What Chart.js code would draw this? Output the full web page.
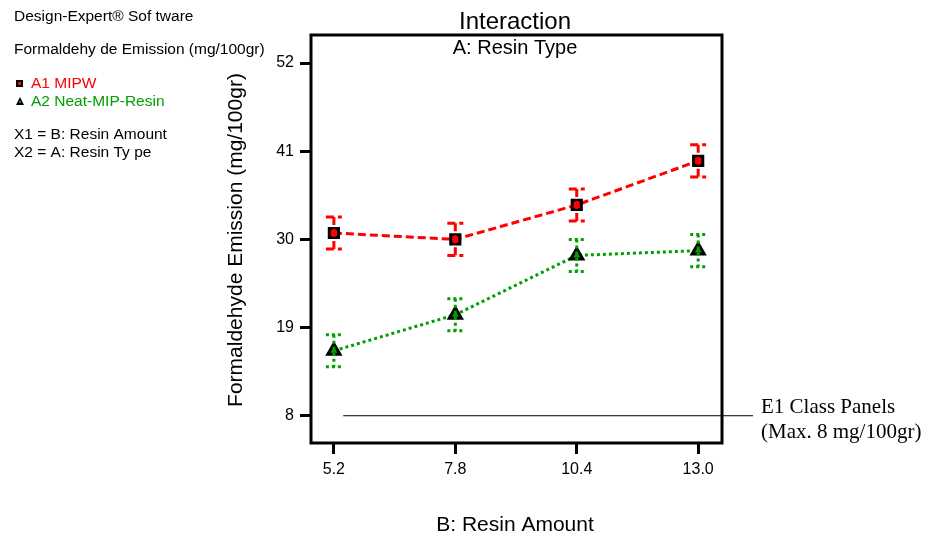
<!DOCTYPE html>
<html>
<head>
<meta charset="utf-8">
<script src="https://cdn.jsdelivr.net/npm/chart.js@4/dist/chart.umd.min.js"></script>
<style>
    html, body { margin: 0; padding: 0; background: #fff; }
    #wrap { width: 926px; height: 538px; position: relative; }
</style>
</head>
<body>
<div id="wrap"><canvas id="interaction-chart" width="926" height="538"></canvas></div>
<script>
// Data
const resinAmount = [5.2, 7.8, 10.4, 13.0];
const mipwValues = [30.8, 30.0, 34.3, 39.8];
const mipwError = [2.0, 2.0, 2.0, 2.0];
const neatValues = [16.1, 20.6, 28.0, 28.6];
const neatError = [2.0, 2.0, 2.0, 2.0];
const yTickValues = [8, 19, 30, 41, 52];
const e1Limit = 8;

const SANS = '"Liberation Sans", Arial, sans-serif';
const SERIF = '"Liberation Serif", "Times New Roman", serif';

function toPoints(xs, ys) {
    return xs.map((x, i) => ({ x: x, y: ys[i] }));
}

// Plugin untuk error bar, garis batas E1, bingkai dan teks
const decorPlugin = {
    id: 'decor',
    afterDatasetsDraw(chart) {
        const ctx = chart.ctx;
        const xs = chart.scales.x;
        const ys = chart.scales.y;
        const bars = [
            { vals: mipwValues, err: mipwError, color: '#ff0000', dash: [8, 4] },
            { vals: neatValues, err: neatError, color: '#00a000', dash: [3, 3] }
        ];
        ctx.save();
        bars.forEach(b => {
            ctx.strokeStyle = b.color;
            ctx.lineWidth = 3;
            ctx.setLineDash(b.dash);
            resinAmount.forEach((xv, i) => {
                const px = xs.getPixelForValue(xv);
                const top = ys.getPixelForValue(b.vals[i] + b.err[i]);
                const bot = ys.getPixelForValue(b.vals[i] - b.err[i]);
                ctx.beginPath();
                ctx.moveTo(px, top);
                ctx.lineTo(px, bot);
                ctx.moveTo(px - 8, top);
                ctx.lineTo(px + 8, top);
                ctx.moveTo(px - 8, bot);
                ctx.lineTo(px + 8, bot);
                ctx.stroke();
            });
        });
        ctx.restore();
    },
    afterDraw(chart) {
        const ctx = chart.ctx;
        const area = chart.chartArea;
        const xs = chart.scales.x;
        const ys = chart.scales.y;
        ctx.save();

        // bingkai
        ctx.strokeStyle = '#000';
        ctx.lineWidth = 3;
        ctx.strokeRect(area.left, area.top, area.right - area.left, area.bottom - area.top);

        // garis batas E1
        const yLim = ys.getPixelForValue(e1Limit);
        ctx.lineWidth = 1;
        ctx.beginPath();
        ctx.moveTo(xs.getPixelForValue(5.4), yLim);
        ctx.lineTo(753, yLim);
        ctx.stroke();

        ctx.fillStyle = '#000';
        ctx.textBaseline = 'middle';
        ctx.textAlign = 'left';
        ctx.font = '21px ' + SERIF;
        ctx.fillText('E1 Class Panels', 761, 407);
        ctx.fillText('(Max. 8 mg/100gr)', 761, 432);

        // judul
        ctx.textAlign = 'center';
        ctx.font = '24px ' + SANS;
        ctx.fillText('Interaction', 515, 22);
        ctx.font = '20px ' + SANS;
        ctx.fillText('A: Resin Type', 515, 48);
        ctx.font = '21px ' + SANS;
        ctx.fillText('B: Resin Amount', 515, 525);

        ctx.save();
        ctx.translate(236, 240);
        ctx.rotate(-Math.PI / 2);
        ctx.font = '21px ' + SANS;
        ctx.fillText('Formaldehyde Emission (mg/100gr)', 0, 0);
        ctx.restore();

        // teks kiri
        ctx.textAlign = 'left';
        ctx.font = '15.5px ' + SANS;
        ctx.fillText('Design-Expert® Sof tware', 14, 17);
        ctx.fillText('Formaldehy de Emission (mg/100gr)', 14, 50);
        ctx.fillStyle = '#ff0000';
        ctx.fillText('A1 MIPW', 31, 84);
        ctx.fillStyle = '#00a000';
        ctx.fillText('A2 Neat-MIP-Resin', 31, 102);
        ctx.fillStyle = '#000';
        ctx.fillText('X1 = B: Resin Amount', 14, 135);
        ctx.fillText('X2 = A: Resin Ty pe', 14, 153);

        // simbol legenda
        ctx.fillStyle = '#000';
        ctx.fillRect(16, 80, 7, 7);
        ctx.fillStyle = '#ff0000';
        ctx.fillRect(18, 82, 3, 3);
        ctx.fillStyle = '#000';
        ctx.beginPath();
        ctx.moveTo(20, 97);
        ctx.lineTo(24, 105);
        ctx.lineTo(16, 105);
        ctx.closePath();
        ctx.fill();
        ctx.fillStyle = '#00a000';
        ctx.fillRect(19, 101, 2, 2);

        ctx.restore();
    }
};

function setupChart() {
    const ctx = document.getElementById('interaction-chart').getContext('2d');
    new Chart(ctx, {
        type: 'line',
        data: {
            datasets: [
                {
                    label: 'A1 MIPW',
                    data: toPoints(resinAmount, mipwValues),
                    borderColor: '#ff0000',
                    borderWidth: 3,
                    borderDash: [8, 4],
                    pointStyle: 'rect',
                    pointRadius: 6.5,
                    pointBackgroundColor: '#ff0000',
                    pointBorderColor: '#000',
                    pointBorderWidth: 3,
                    fill: false,
                    tension: 0
                },
                {
                    label: 'A2 Neat-MIP-Resin',
                    data: toPoints(resinAmount, neatValues),
                    borderColor: '#00a000',
                    borderWidth: 3,
                    borderDash: [3, 3],
                    pointStyle: 'triangle',
                    pointRadius: 7,
                    pointBackgroundColor: '#00a000',
                    pointBorderColor: '#000',
                    pointBorderWidth: 3,
                    fill: false,
                    tension: 0
                }
            ]
        },
        options: {
            responsive: false,
            animation: false,
            layout: {
                padding: { left: 251, right: 204, top: 35, bottom: 45 }
            },
            plugins: {
                legend: { display: false },
                title: { display: false },
                tooltip: { enabled: false }
            },
            scales: {
                x: {
                    type: 'linear',
                    min: 4.71,
                    max: 13.51,
                    afterFit: s => { s.height = 50; },
                    afterBuildTicks: s => { s.ticks = resinAmount.map(v => ({ value: v })); },
                    grid: {
                        drawOnChartArea: false,
                        color: '#000',
                        lineWidth: 3,
                        tickLength: 11
                    },
                    border: { display: false },
                    ticks: {
                        color: '#000',
                        font: { family: SANS, size: 16 },
                        padding: 6,
                        callback: v => v.toFixed(1)
                    }
                },
                y: {
                    type: 'linear',
                    min: 4.6,
                    max: 55.5,
                    afterFit: s => { s.width = 60; },
                    afterBuildTicks: s => { s.ticks = yTickValues.map(v => ({ value: v })); },
                    grid: {
                        drawOnChartArea: false,
                        color: '#000',
                        lineWidth: 3,
                        tickLength: 11
                    },
                    border: { display: false },
                    ticks: {
                        color: '#000',
                        font: { family: SANS, size: 16 },
                        padding: 6
                    }
                }
            }
        },
        plugins: [decorPlugin]
    });
}

document.addEventListener('DOMContentLoaded', setupChart);
</script>
</body>
</html>
